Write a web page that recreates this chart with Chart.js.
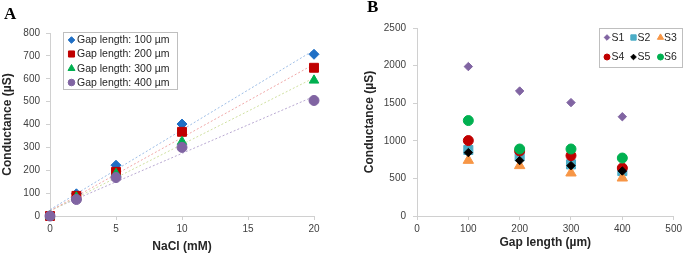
<!DOCTYPE html>
<html>
<head>
<meta charset="utf-8">
<script src="https://cdn.jsdelivr.net/npm/chart.js@4.4.0/dist/chart.umd.min.js"></script>
<style>
html, body { margin: 0; padding: 0; background: #fff; }
#wrap { position: relative; width: 685px; height: 254px; overflow: hidden; }
canvas { position: absolute; top: 0; }
.panel { position: absolute; font: bold 17px "Liberation Serif"; line-height: 17px; color: #000; }
</style>
</head>
<body>
<div id="wrap">
    <canvas id="chartA" width="340" height="254" style="left:0"></canvas>
    <canvas id="chartB" width="340" height="254" style="left:345px"></canvas>
    <div class="panel" style="left:4px; top:5px">A</div>
    <div class="panel" style="left:367px; top:-2px">B</div>
</div>
<script>
// ---- panel A data ----
const naclMM = [0, 2, 5, 10, 20];
const gap100 = [0, 97, 222, 402, 707];
const gap200 = [0, 88, 193, 368, 648];
const gap300 = [0, 82, 185, 325, 593];
const gap400 = [0, 72, 168, 300, 505];
const labelsA = ['Gap length: 100 µm', 'Gap length: 200 µm', 'Gap length: 300 µm', 'Gap length: 400 µm'];

// ---- panel B data ----
const gapLengths = [100, 200, 300, 400];
const s1 = [1987, 1662, 1508, 1320];
const s2 = [878, 794, 687, 598];
const s3 = [740, 670, 572, 505];
const s4 = [1003, 865, 803, 638];
const s5 = [843, 737, 670, 598];
const s6 = [1269, 891, 891, 771];
const labelsB = ['S1', 'S2', 'S3', 'S4', 'S5', 'S6'];

const axisGrey = '#d0d0d0';
const textGrey = '#404040';

// least squares line, like the Excel linear trendline
const trend = (xs, ys) => {
    const n = xs.length;
    const mx = xs.reduce((a, b) => a + b, 0) / n;
    const my = ys.reduce((a, b) => a + b, 0) / n;
    let sxy = 0, sxx = 0;
    xs.forEach((x, i) => { sxy += (x - mx) * (ys[i] - my); sxx += (x - mx) * (x - mx); });
    const m = sxy / sxx, b = my - m * mx;
    const x0 = Math.min(...xs), x1 = Math.max(...xs);
    return [{x: x0, y: m * x0 + b}, {x: x1, y: m * x1 + b}];
};

const pts = (xs, ys) => xs.map((x, i) => ({x, y: ys[i]}));

// draws the boxed legend at a fixed place inside the canvas
const boxLegend = {
    id: 'boxLegend',
    afterDraw(chart, args, opts) {
        const {ctx} = chart;
        const [l, t, r, b] = opts.box;
        ctx.save();
        ctx.fillStyle = '#fff';
        ctx.strokeStyle = '#bfbfbf';
        ctx.lineWidth = 1;
        ctx.fillRect(l, t, r - l, b - t);
        ctx.strokeRect(l + 0.5, t + 0.5, r - l, b - t);
        ctx.font = opts.font;
        ctx.textBaseline = 'middle';
        ctx.textAlign = 'left';
        const sets = chart.data.datasets.filter(d => !d.isTrend);
        sets.forEach((ds, i) => {
            const [mx, my, tx] = opts.cells[i];
            ctx.fillStyle = ds.backgroundColor;
            ctx.strokeStyle = ds.borderColor;
            Chart.helpers.drawPoint(ctx, {
                pointStyle: ds.pointStyle,
                radius: opts.radii[i],
                rotation: 0,
                borderWidth: 1
            }, mx, my);
            ctx.fillStyle = '#262626';
            ctx.fillText(ds.label, tx, my + 0.5);
        });
        ctx.restore();
    }
};

const axis = (min, max, step, title, size, tickLen, tickPad, titlePad, horizontal) => ({
    type: 'linear',
    min, max,
    afterFit: (a) => { if (horizontal) a.height = size; else a.width = size; },
    grid: {
        display: true,
        drawOnChartArea: false,
        drawTicks: true,
        tickLength: tickLen,
        color: axisGrey
    },
    border: { display: true, color: axisGrey },
    ticks: {
        stepSize: step,
        padding: tickPad,
        color: textGrey,
        font: { family: 'Liberation Sans', size: 10 },
        maxRotation: 0,
        callback: (v) => String(v)
    },
    title: {
        display: true,
        text: title,
        color: '#262626',
        padding: titlePad,
        font: { family: 'Liberation Sans', size: 12, weight: 'bold', lineHeight: 1 }
    }
});

// ---- chart A ----
const colorsA = ['#1f6fc5', '#c00000', '#00b050', '#8064a2'];
const trendColorsA = ['#9dbde6', '#f0a8a8', '#cfe0a0', '#b9a9d2'];
const stylesA = ['rectRot', 'rect', 'triangle', 'circle'];
const radiiA = [5, 6.3, 5.5, 5];
const seriesA = [gap100, gap200, gap300, gap400];

const datasetsA = [];
seriesA.forEach((ys, i) => {
    datasetsA.push({
        label: labelsA[i],
        data: pts(naclMM, ys),
        showLine: false,
        pointStyle: stylesA[i],
        pointRadius: radiiA[i],
        backgroundColor: colorsA[i],
        borderColor: colorsA[i],
        borderWidth: 1,
        order: 4 - i
    });
});
seriesA.forEach((ys, i) => {
    datasetsA.push({
        label: labelsA[i] + ' trend',
        isTrend: true,
        data: trend(naclMM, ys),
        showLine: true,
        pointRadius: 0,
        borderColor: trendColorsA[i],
        borderWidth: 1,
        borderDash: [2, 2],
        order: 10
    });
});

new Chart(document.getElementById('chartA'), {
    type: 'scatter',
    data: { datasets: datasetsA },
    plugins: [boxLegend],
    options: {
        responsive: false,
        animation: false,
        clip: false,
        layout: { padding: { left: 0, top: 33, right: 26, bottom: 0 } },
        scales: {
            x: axis(0, 20, 5, 'NaCl (mM)', 38, 4, 3, { top: 0, bottom: 1 }, true),
            y: axis(0, 800, 100, 'Conductance (µS)', 50, 4, 6, { top: 2, bottom: 0 }, false)
        },
        plugins: {
            legend: { display: false },
            tooltip: { enabled: false },
            boxLegend: {
                box: [63, 32, 177, 89],
                font: '10.5px "Liberation Sans"',
                radii: [3.3, 4.3, 4, 3.3],
                cells: [[71.5, 40, 77], [71.5, 54, 77], [71.5, 68.5, 77], [71.5, 82.5, 77]]
            }
        }
    }
});

// ---- chart B ----
const seriesB = [s1, s2, s3, s4, s5, s6];
const colorsB = ['#8064a2', '#4bacc6', '#f79646', '#c00000', '#000000', '#00b050'];
const stylesB = ['rectRot', 'rect', 'triangle', 'circle', 'rectRot', 'circle'];
const radiiB = [4.2, 6.4, 6, 5, 4.2, 5];

const datasetsB = seriesB.map((ys, i) => ({
    label: labelsB[i],
    data: pts(gapLengths, ys),
    showLine: false,
    pointStyle: stylesB[i],
    pointRadius: radiiB[i],
    backgroundColor: colorsB[i],
    borderColor: colorsB[i],
    borderWidth: 1,
    order: 6 - i
}));

new Chart(document.getElementById('chartB'), {
    type: 'scatter',
    data: { datasets: datasetsB },
    plugins: [boxLegend],
    options: {
        responsive: false,
        animation: false,
        clip: false,
        layout: { padding: { left: 0, top: 28, right: 9, bottom: 4 } },
        scales: {
            x: axis(0, 500, 100, 'Gap length (µm)', 34, 4, 3, { top: 0, bottom: 1 }, true),
            y: axis(0, 2500, 500, 'Conductance (µS)', 72, 4, 7, { top: 19, bottom: 0 }, false)
        },
        plugins: {
            legend: { display: false },
            tooltip: { enabled: false },
            boxLegend: {
                box: [254, 28, 337, 67],
                font: '10.5px "Liberation Sans"',
                radii: [2.8, 3.8, 3.6, 3, 2.8, 3],
                cells: [[262, 37.5, 266.5], [288.5, 37.5, 292.5], [315.5, 37.5, 319],
                        [262, 57, 266.5], [288.5, 57, 292.5], [315.5, 57, 319]]
            }
        }
    }
});
</script>
</body>
</html>
